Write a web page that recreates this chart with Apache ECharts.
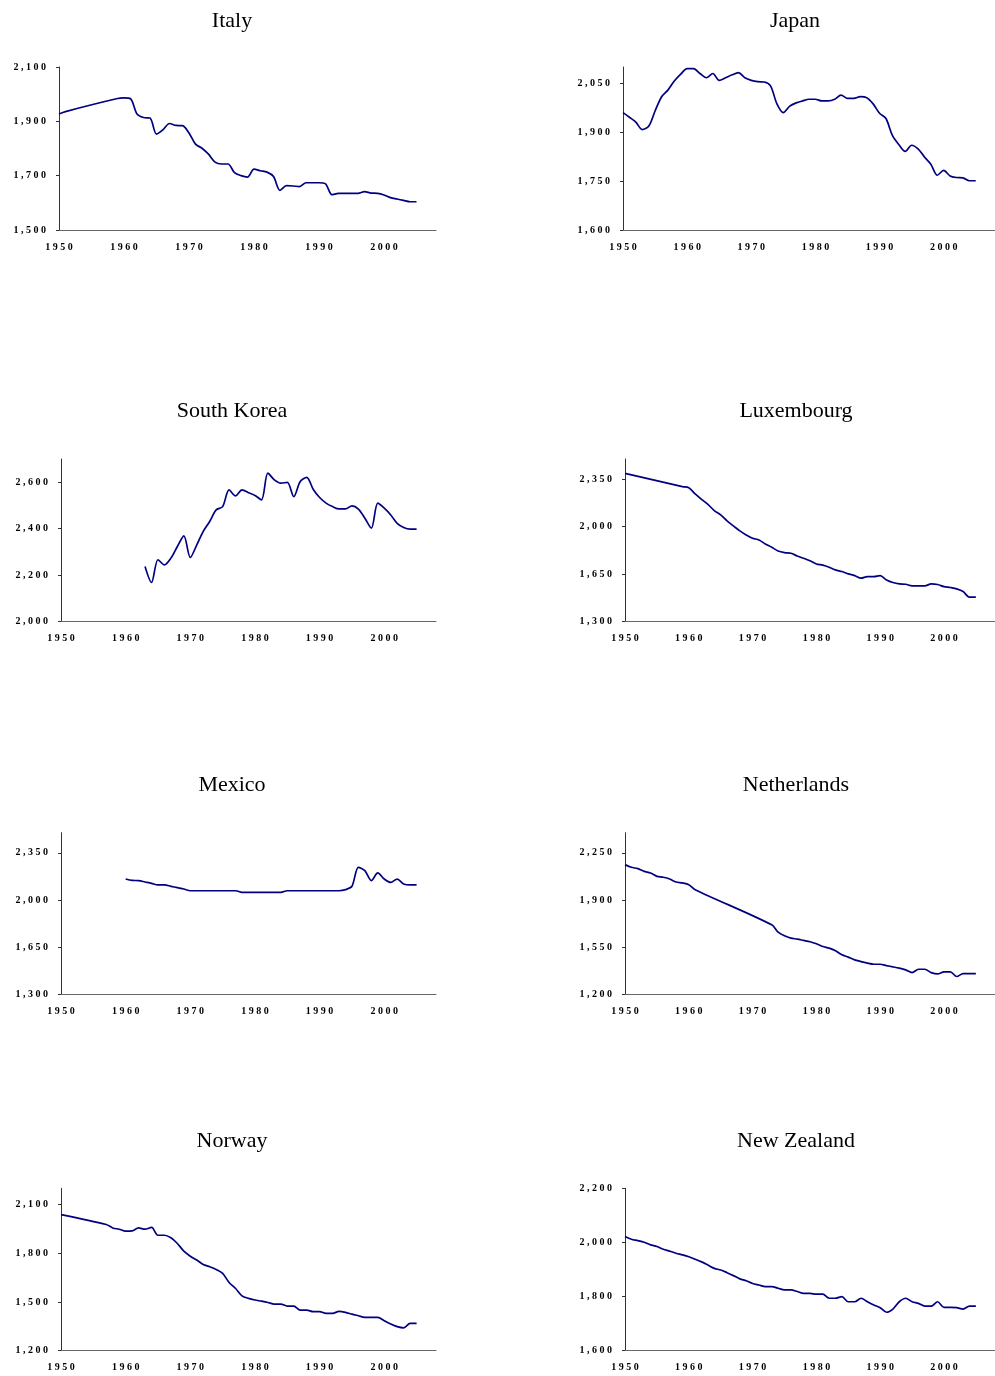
<!DOCTYPE html>
<html>
<head>
<meta charset="utf-8">
<script src="https://cdn.jsdelivr.net/npm/echarts@6/dist/echarts.min.js"></script>
<style>
html,body{margin:0;padding:0;background:#fff;}
#chart{width:995px;height:1376px;}
</style>
</head>
<body>
<div id="chart"></div>
<script>
const years = [1950,1951,1952,1953,1954,1955,1956,1957,1958,1959,
1960,1961,1962,1963,1964,1965,1966,1967,1968,1969,
1970,1971,1972,1973,1974,1975,1976,1977,1978,1979,
1980,1981,1982,1983,1984,1985,1986,1987,1988,1989,
1990,1991,1992,1993,1994,1995,1996,1997,1998,1999,
2000,2001,2002,2003,2004,2005];

const xTicks = [1950,1960,1970,1980,1990,2000];

const countries = ['Italy','Japan','South Korea','Luxembourg','Mexico','Netherlands','Norway','New Zealand'];

const italy = [1927,1936,null,null,null,null,null,null,null,1984,
1986,1983,1927,1914,1912,1853,1869,1892,1885,1884,
1857,1816,1801,1779,1750,1743,1743,1711,1700,1695,
1724,1718,1713,1697,1646,1663,1662,1660,1674,1674,
1674,1670,1630,1635,1635,1635,1635,1641,1636,1635,
1629,1619,1614,1609,1604,1604];

const japan = [1960,1946,1931,1908,1918,1965,2008,2029,2057,2078,
2095,2095,2080,2067,2080,2059,2067,2076,2083,2067,
2059,2055,2054,2042,1987,1960,1980,1990,1996,2001,
2001,1996,1996,2001,2014,2004,2004,2009,2006,1987,
1958,1942,1890,1862,1841,1860,1849,1824,1802,1768,
1783,1766,1761,1760,1751,1751];

const southKorea = [null,null,null,null,null,null,null,null,null,null,
null,null,null,2237,2168,2266,2244,2273,2323,2369,
2276,2330,2388,2431,2481,2495,2567,2541,2567,2555,
2543,2524,2639,2610,2596,2599,2538,2603,2621,2570,
2534,2510,2495,2485,2485,2498,2484,2445,2402,2510,
2488,2459,2423,2405,2398,2398];

const luxembourg = [2394,null,null,null,null,null,null,null,null,2296,
2288,2242,2202,2165,2119,2087,2043,2006,1969,1939,
1915,1902,1873,1848,1821,1809,1804,1784,1767,1748,
1725,1716,1701,1681,1669,1652,1639,1620,1632,1632,
1639,1607,1588,1578,1575,1563,1563,1563,1578,1573,
1558,1551,1541,1521,1480,1480];

const mexico = [null,null,null,null,null,null,null,null,null,null,
2156,2146,2144,2134,2124,2112,2112,2102,2092,2082,
2069,2069,2069,2069,2069,2069,2069,2069,2057,2057,
2057,2057,2057,2057,2057,2069,2069,2069,2069,2069,
2069,2069,2069,2069,2077,2102,2243,2218,2144,2201,
2156,2131,2156,2119,2112,2112];

const netherlands = [2163,2143,2133,2113,2101,2076,2069,2056,2034,2027,
2014,1977,null,null,null,null,null,null,null,null,
null,null,null,1716,1662,1634,1617,1610,1600,1590,
1575,1555,1543,1523,1493,1476,1456,1443,1431,1423,
1423,1413,1404,1394,1381,1361,1386,1386,1361,1351,
1366,1366,1332,1354,1354,1354];

const norway = [2038,null,null,null,null,null,null,1977,1956,1948,
1936,1938,1956,1948,1959,1911,1911,1895,1860,1813,
1782,1758,1731,1717,1700,1676,1620,1583,1538,1522,
1512,1505,1497,1487,1487,1475,1475,1450,1450,1440,
1440,1430,1430,1442,1436,1425,1415,1405,1405,1405,
1385,1364,1348,1341,1368,1368];

const newZealand = [2021,2011,2006,2000,1990,1984,1974,1967,1959,1953,
1946,1937,1927,1915,1903,1897,1887,1876,1864,1857,
1847,1841,1835,1835,1829,1823,1823,1817,1810,1810,
1807,1807,1792,1792,1798,1779,1779,1792,1779,1767,
1757,1740,1752,1779,1792,1779,1773,1763,1763,1779,
1758,1758,1757,1752,1763,1763];

const seriesValues = [italy, japan, southKorea, luxembourg, mexico, netherlands, norway, newZealand];

const yMins = [1500,1600,2000,1300,1300,1200,1200,1600];
const yMaxs = [2100,2100,2700,2500,2500,2400,2200,2200];
const yTicks = [
  [1500,1700,1900,2100],
  [1600,1750,1900,2050],
  [2000,2200,2400,2600],
  [1300,1650,2000,2350],
  [1300,1650,2000,2350],
  [1200,1550,1900,2250],
  [1200,1500,1800,2100],
  [1600,1800,2000,2200]
];

// layout (pixels)
const gridBoxes = [
  {left:59, top:67,  width:377, height:163},
  {left:623,top:67,  width:376, height:163},
  {left:61, top:459, width:375, height:162.5},
  {left:625,top:459, width:374, height:162.5},
  {left:61, top:832.7, width:375, height:161.6},
  {left:625,top:832.7, width:374, height:161.6},
  {left:61, top:1188.3,width:375, height:162.4},
  {left:625,top:1188.3,width:374, height:161.7}
];
const titlePos = [[227,5],[790,5],[227,395],[791,395],[227,769],[791,769],[227,1125],[791,1125]];

const spaced = s => String(s).split('').join(' ');
const fmtNum = v => spaced(Number(v).toLocaleString('en-US'));

const labelFont = {fontFamily:'Liberation Serif', fontWeight:'bold', fontSize:10, color:'#000'};

const option = {
  animation:false,
  backgroundColor:'#fff',
  title: countries.map((c,i)=>({
    text:c, left:titlePos[i][0], top:titlePos[i][1], textAlign:'center',
    textStyle:{fontFamily:'Liberation Serif', fontWeight:'normal', fontSize:22, color:'#000'}
  })),
  grid: gridBoxes.map(g=>Object.assign({containLabel:false}, g)),
  xAxis: countries.map((c,i)=>({
    type:'value', gridIndex:i, min:1950, max:2008,
    axisLine:{show:true, lineStyle:{color:'#666', width:1}},
    axisTick:{show:false},
    splitLine:{show:false},
    axisLabel:Object.assign({customValues:xTicks, margin:12, formatter:v=>spaced(v)}, labelFont)
  })),
  yAxis: countries.map((c,i)=>({
    type:'value', gridIndex:i, min:yMins[i], max:yMaxs[i],
    axisLine:{show:true, lineStyle:{color:'#333', width:1}},
    axisTick:{show:true, length:3, customValues:yTicks[i], lineStyle:{color:'#333'}},
    splitLine:{show:false},
    axisLabel:Object.assign({customValues:yTicks[i], margin:13, formatter:v=>fmtNum(v)}, labelFont)
  })),
  series: countries.map((c,i)=>({
    type:'line', name:c, xAxisIndex:i, yAxisIndex:i,
    data: years.map((y,k)=>[y, seriesValues[i][k]]).filter(d=>d[1]!==null),
    showSymbol:false, smooth:0.3,
    lineStyle:{color:'#000080', width:1.7},
    itemStyle:{color:'#000080'}
  }))
};

const chart = echarts.init(document.getElementById('chart'), null, {renderer:'canvas'});
chart.setOption(option);
</script>
</body>
</html>
